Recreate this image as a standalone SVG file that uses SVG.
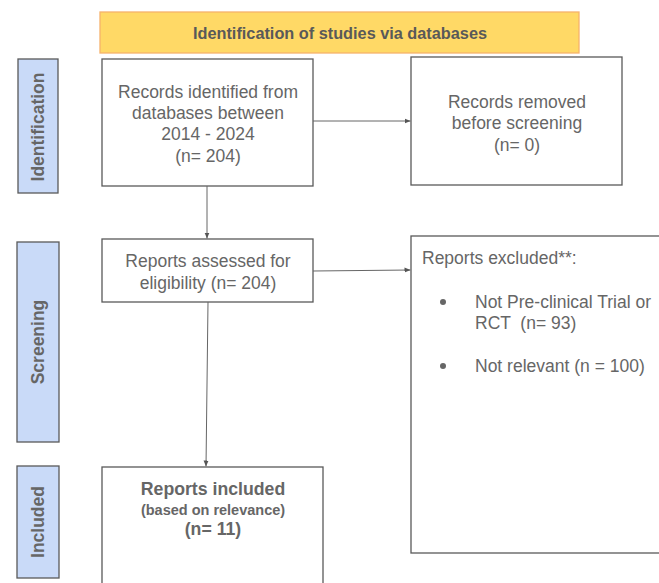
<svg xmlns="http://www.w3.org/2000/svg" width="659" height="583" viewBox="0 0 659 583">
<style>
  text { font-family: "Liberation Sans", Arial, sans-serif; fill: #666666; }
  .box { fill: #ffffff; stroke: #595959; stroke-width: 1.3; }
  .tab { fill: #c9daf8; stroke: #595959; stroke-width: 1.3; }
  .tabt { font-size: 17.5px; font-weight: bold; text-anchor: middle; }
  .t { font-size: 17.5px; text-anchor: middle; }
  .tl { font-size: 17.5px; white-space: pre; }
  .b { font-weight: bold; }
  .conn { stroke: #666666; stroke-width: 1; fill: none; marker-end: url(#arr); }
</style>
<defs>
  <marker id="arr" viewBox="0 0 6 6" refX="6" refY="3" markerWidth="6" markerHeight="6" markerUnits="userSpaceOnUse" orient="auto">
    <path d="M0,0.5 L6,3 L0,5.5 Z" fill="#555555"/>
  </marker>
</defs>
<rect width="659" height="583" fill="#ffffff"/>

<g id="header">
  <rect x="100" y="12" width="479" height="41" fill="#ffd966" stroke="#f6b26b" stroke-width="1.3"/>
  <text x="340" y="39" class="t b" style="font-size:16.3px;fill:#595959">Identification of studies via databases</text>
</g>

<g id="tab-identification">
  <rect class="tab" x="18" y="59" width="40" height="134"/>
  <text class="tabt" transform="translate(44,127) rotate(-90)">Identification</text>
</g>
<g id="tab-screening">
  <rect class="tab" x="17" y="242" width="42" height="200"/>
  <text class="tabt" transform="translate(44,342) rotate(-90)">Screening</text>
</g>
<g id="tab-included">
  <rect class="tab" x="17" y="466" width="42" height="112"/>
  <text class="tabt" transform="translate(44,522) rotate(-90)">Included</text>
</g>

<g id="records-identified">
  <rect class="box" x="102" y="59" width="211" height="127"/>
  <text class="t" x="208" y="98">Records identified from</text>
  <text class="t" x="208" y="119">databases between</text>
  <text class="t" x="208" y="140">2014 - 2024</text>
  <text class="t" x="208" y="162">(n= 204)</text>
</g>

<g id="records-removed">
  <rect class="box" x="411" y="57" width="211" height="128"/>
  <text class="t" x="517" y="108">Records removed</text>
  <text class="t" x="517" y="129">before screening</text>
  <text class="t" x="517" y="151">(n= 0)</text>
</g>

<g id="reports-assessed">
  <rect class="box" x="102" y="239" width="211" height="63"/>
  <text class="t" x="208" y="267">Reports assessed for</text>
  <text class="t" x="208" y="289">eligibility (n= 204)</text>
</g>

<g id="reports-excluded">
  <rect class="box" x="411" y="236" width="260" height="317"/>
  <text class="tl" x="422" y="264">Reports excluded**:</text>
  <circle cx="443" cy="302" r="3" fill="#666666"/>
  <text class="tl" x="475" y="308">Not Pre-clinical Trial or</text>
  <text class="tl" x="475" y="329" xml:space="preserve">RCT  (n= 93)</text>
  <circle cx="443" cy="366" r="3" fill="#666666"/>
  <text class="tl" x="475" y="372">Not relevant (n = 100)</text>
</g>

<g id="reports-included">
  <rect class="box" x="102" y="467" width="221" height="130"/>
  <text class="t b" x="213" y="495" style="font-size:17.7px">Reports included</text>
  <text class="t b" x="213" y="515" style="font-size:14.5px">(based on relevance)</text>
  <text class="t b" x="213" y="535" style="font-size:17.7px">(n= 11)</text>
</g>

<g id="connectors">
  <line class="conn" x1="313" y1="121" x2="410.5" y2="121"/>
  <line class="conn" x1="207" y1="186" x2="207" y2="238.5"/>
  <line class="conn" x1="313" y1="271" x2="410.5" y2="270"/>
  <line class="conn" x1="208" y1="302" x2="206" y2="466.5"/>
</g>
</svg>
